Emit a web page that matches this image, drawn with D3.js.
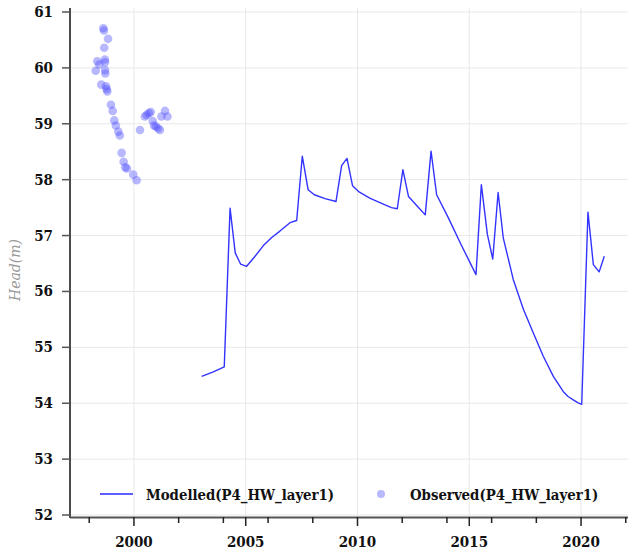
<!DOCTYPE html>
<html>
<head>
<meta charset="utf-8">
<script src="https://cdn.jsdelivr.net/npm/d3@7"></script>
<style>
  body { margin: 0; background: #fff; }
  svg text { font-family: "DejaVu Serif", serif; }
</style>
</head>
<body>
<svg id="chart" width="628" height="556"></svg>
<script>
// modelled head, decimal years
const modelledYears = [2003.03, 2003.55, 2004.04, 2004.30, 2004.53, 2004.77, 2005.04, 2005.40, 2005.79, 2006.15,
  2006.53, 2006.98, 2007.28, 2007.53, 2007.79, 2008.07, 2008.55, 2009.04, 2009.29, 2009.53,
  2009.78, 2010.07, 2010.55, 2011.00, 2011.52, 2011.78, 2012.03, 2012.28, 2012.76, 2013.03,
  2013.29, 2013.54, 2014.06, 2014.62, 2015.30, 2015.54, 2015.81, 2016.05, 2016.29, 2016.52,
  2016.97, 2017.42, 2017.86, 2018.31, 2018.76, 2019.20, 2019.42, 2019.65, 2019.85, 2020.03,
  2020.31, 2020.55, 2020.81, 2021.04];
const modelledHead = [54.48, 54.56, 54.65, 57.49, 56.69, 56.49, 56.45, 56.62, 56.82, 56.96,
  57.08, 57.23, 57.27, 58.42, 57.82, 57.73, 57.66, 57.61, 58.25, 58.38,
  57.89, 57.78, 57.67, 57.59, 57.50, 57.48, 58.18, 57.70, 57.49, 57.37,
  58.51, 57.73, 57.32, 56.85, 56.30, 57.91, 57.02, 56.58, 57.77, 56.96,
  56.21, 55.68, 55.26, 54.84, 54.48, 54.21, 54.12, 54.06, 54.01, 53.98,
  57.42, 56.48, 56.35, 56.63];

const observedYears = [1998.63, 1998.66, 1998.84, 1998.67, 1998.36, 1998.45, 1998.70, 1998.71, 1998.29, 1998.71,
  1998.72, 1998.54, 1998.75, 1998.78, 1998.81, 1998.97, 1999.05, 1999.12, 1999.19, 1999.30, 1999.37, 1999.45,
  1999.54, 1999.61, 1999.69, 1999.97, 2000.12, 2000.27, 2000.49, 2000.57, 2000.67, 2000.75, 2000.84, 2000.90,
  2000.98, 2001.08, 2001.16, 2001.23, 2001.39, 2001.50];
const observedHead = [60.71, 60.67, 60.52, 60.36, 60.12, 60.06, 60.15, 60.10, 59.95, 59.96,
  59.90, 59.70, 59.67, 59.62, 59.58, 59.34, 59.23, 59.06, 58.97, 58.86, 58.79, 58.48,
  58.32, 58.22, 58.20, 58.09, 57.99, 58.89, 59.13, 59.16, 59.19, 59.21, 59.05, 58.97,
  58.95, 58.92, 58.89, 59.13, 59.23, 59.13];

const yTicks = [52, 53, 54, 55, 56, 57, 58, 59, 60, 61];
const xLabelTicks = [2000, 2005, 2010, 2015, 2020];
const xMinorTicks = [1998, 2002, 2004, 2006, 2008, 2012, 2014, 2016, 2018, 2022];
const seriesNames = ["Modelled(P4_HW_layer1)", "Observed(P4_HW_layer1)"];

const svg = d3.select("svg#chart");
const plotLeft = 70, plotRight = 628, plotTop = 12, plotBottom = 515;

const x = d3.scaleLinear().domain([1997.14, 2022.1]).range([plotLeft, plotRight]);
const y = d3.scaleLinear().domain([52, 61]).range([plotBottom, plotTop]);

// grid
svg.append("g").selectAll("line")
  .data(yTicks).join("line")
  .attr("x1", plotLeft).attr("x2", plotRight)
  .attr("y1", d => y(d)).attr("y2", d => y(d))
  .attr("stroke", "#e8e8e8").attr("stroke-width", 1);
svg.append("g").selectAll("line")
  .data(xLabelTicks).join("line")
  .attr("x1", d => x(d)).attr("x2", d => x(d))
  .attr("y1", 8).attr("y2", 517)
  .attr("stroke", "#e8e8e8").attr("stroke-width", 1);

// y axis
const yAxis = svg.append("g");
yAxis.append("line")
  .attr("x1", plotLeft).attr("x2", plotLeft).attr("y1", 8).attr("y2", 518)
  .attr("stroke", "#111").attr("stroke-width", 1.5);
yAxis.selectAll("line.tick").data(yTicks).join("line")
  .attr("class", "tick")
  .attr("x1", 62).attr("x2", plotLeft)
  .attr("y1", d => y(d)).attr("y2", d => y(d))
  .attr("stroke", "#555").attr("stroke-width", 1.5);
yAxis.selectAll("text").data(yTicks).join("text")
  .attr("x", 53).attr("y", d => y(d))
  .attr("text-anchor", "end").attr("dominant-baseline", "central")
  .attr("font-size", 15).attr("font-weight", "bold")
  .attr("font-stretch", "condensed")
  .attr("fill", "#111")
  .text(d => d);

// x axis
const xAxis = svg.append("g");
xAxis.append("line")
  .attr("x1", plotLeft).attr("x2", plotRight).attr("y1", 517.5).attr("y2", 517.5)
  .attr("stroke", "#555").attr("stroke-width", 2);
xAxis.selectAll("line.major").data(xLabelTicks).join("line")
  .attr("class", "major")
  .attr("x1", d => x(d)).attr("x2", d => x(d))
  .attr("y1", 517).attr("y2", 526)
  .attr("stroke", "#222").attr("stroke-width", 1.5);
xAxis.selectAll("line.minor").data(xMinorTicks).join("line")
  .attr("class", "minor")
  .attr("x1", d => x(d)).attr("x2", d => x(d))
  .attr("y1", 517).attr("y2", 523)
  .attr("stroke", "#222").attr("stroke-width", 1.5);
xAxis.selectAll("text").data(xLabelTicks).join("text")
  .attr("x", d => x(d)).attr("y", 547)
  .attr("text-anchor", "middle")
  .attr("font-size", 15).attr("font-weight", "bold")
  .attr("font-stretch", "condensed")
  .attr("fill", "#111")
  .text(d => d);

// y label
svg.append("text")
  .attr("transform", "translate(20,270) rotate(-90)")
  .attr("text-anchor", "middle")
  .attr("font-size", 14).attr("font-style", "italic")
  .attr("fill", "#999")
  .text("Head(m)");

// modelled line
const line = d3.line().x((d, i) => x(modelledYears[i])).y(d => y(d));
svg.append("path")
  .datum(modelledHead)
  .attr("d", line)
  .attr("fill", "none")
  .attr("stroke", "#3333ff")
  .attr("stroke-width", 1.4)
  .attr("stroke-linejoin", "round");

// observed points
svg.append("g").selectAll("circle")
  .data(observedHead).join("circle")
  .attr("cx", (d, i) => x(observedYears[i]))
  .attr("cy", d => y(d))
  .attr("r", 4.3)
  .attr("fill", "#4d4dff")
  .attr("opacity", 0.4);

// legend
const legend = svg.append("g");
legend.append("line")
  .attr("x1", 100).attr("x2", 133).attr("y1", 494).attr("y2", 494)
  .attr("stroke", "#2a2aff").attr("stroke-width", 1.4);
legend.append("text")
  .attr("x", 146).attr("y", 494).attr("dominant-baseline", "central")
  .attr("font-size", 14.8).attr("font-weight", "bold").attr("font-stretch", "condensed")
  .attr("fill", "#111").text(seriesNames[0]);
legend.append("circle")
  .attr("cx", 381).attr("cy", 494).attr("r", 4)
  .attr("fill", "#4d4dff").attr("opacity", 0.4);
legend.append("text")
  .attr("x", 410).attr("y", 494).attr("dominant-baseline", "central")
  .attr("font-size", 14.8).attr("font-weight", "bold").attr("font-stretch", "condensed")
  .attr("fill", "#111").text(seriesNames[1]);
</script>
</body>
</html>
